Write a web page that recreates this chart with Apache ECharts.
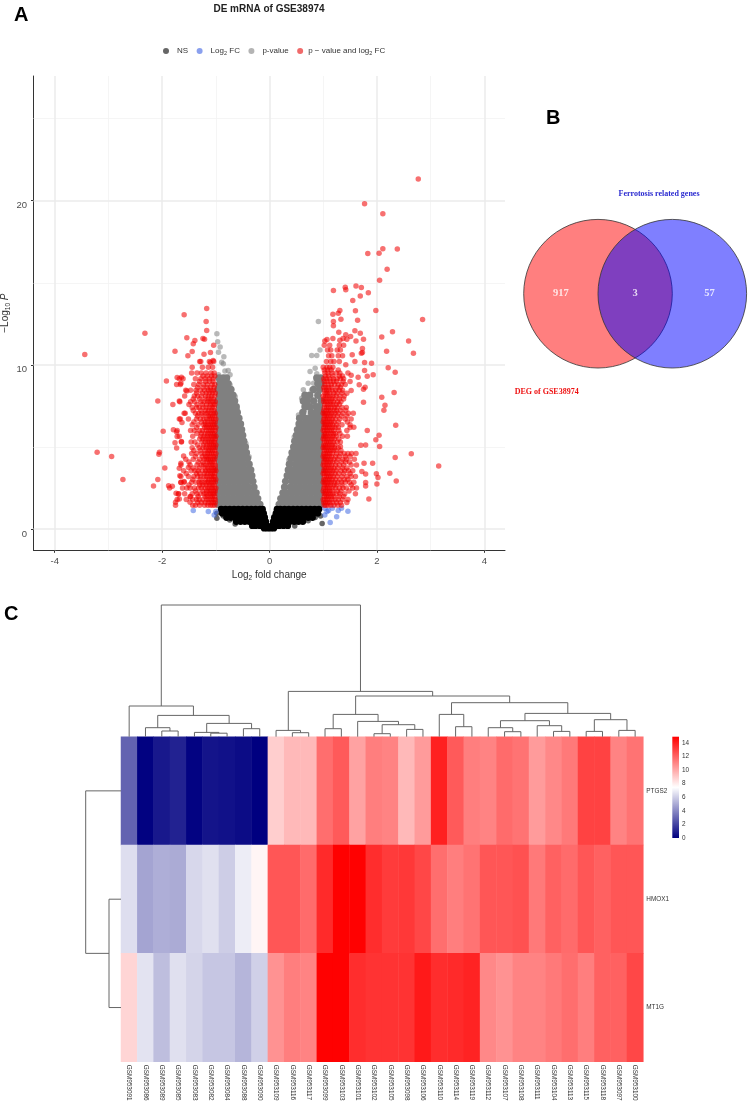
<!DOCTYPE html>
<html><head><meta charset="utf-8">
<style>html,body{margin:0;padding:0;background:#fff}#c{width:749px;height:1102px}</style>
<script src="https://cdn.jsdelivr.net/npm/echarts@6/dist/echarts.min.js"></script></head>
<body><div id="c"></div>
<script>
// ---------- Panel A: volcano values (rows are [-log10P, log2FC, log2FC, ...]) ----------
const xTicks=[-4,-2,0,2,4];
const yTicks=[0,10,20];
const xMajor=[-4,-2,0,2,4], xMinor=[-3,-1,1,3];
const yMajor=[0,10,20], yMinor=[5,15,25];

const nsMassRows=[
[1.2,-.9,-.82,-.74,-.66,-.58,-.5,-.42,-.34,-.26,-.18,-.13,.14,.2,.28,.36,.44,.52,.6,.68,.76,.84,.92],
[.95,-.88,-.8,-.72,-.64,-.56,-.48,-.4,-.32,-.24,-.16,-.11,.12,.18,.26,.34,.42,.5,.58,.66,.74,.82,.9],
[.7,-.8,-.72,-.64,-.56,-.48,-.4,-.32,-.24,-.16,-.09,.09,.16,.24,.32,.4,.48,.56,.64,.72,.8],
[.45,-.62,-.54,-.46,-.38,-.3,-.22,-.14,-.07,.07,.14,.22,.3,.38,.46,.54,.62],
[.2,-.32,-.26,-.18,-.12,-.05,.05,.12,.18,.26,.34],
[.05,-.1,-.04,.02,.08]];
const nsEdge=[[-.98,.95],[-.98,.65],[-.86,.79],[-.74,.55],[-.64,.3],[.47,.18],[.98,.33],[.95,.79],[.85,.7],[.72,.5]];
const log2fcOnly=[[-1.42,1.12],[-1.14,1.06],[-1.03,.85],[-1,1.06],[1.03,.85],[1.1,1.12],[1.17,1.26],[1.03,1.26],[1.28,1.12],[1.34,1.26],[1.46,1.08],[1.25,.75],[1.13,.39],[1.07,1.06]];
const pMassRows=[
[1.5,-.96,-.87,-.78,-.69,-.6,-.51,-.42,-.33,-.24,-.18,.18,.24,.33,.42,.51,.6,.69,.78,.87,.96],
[1.85,-.93,-.84,-.75,-.66,-.57,-.48,-.39,-.3,-.22,.21,.3,.39,.48,.57,.66,.75,.84,.93],
[2.2,-.96,-.87,-.78,-.69,-.6,-.51,-.42,-.33,-.25,.25,.33,.42,.51,.6,.69,.78,.87,.96],
[2.55,-.93,-.84,-.75,-.66,-.57,-.48,-.39,-.29,.28,.39,.48,.57,.66,.75,.84,.93],
[2.9,-.96,-.87,-.78,-.69,-.6,-.51,-.42,-.31,.3,.42,.51,.6,.69,.78,.87,.96],
[3.25,-.93,-.84,-.75,-.66,-.57,-.48,-.39,-.33,.33,.39,.48,.57,.66,.75,.84,.93],
[3.6,-.96,-.87,-.78,-.69,-.6,-.51,-.42,-.35,.35,.42,.51,.6,.69,.78,.87,.96],
[3.95,-.93,-.84,-.75,-.66,-.57,-.48,-.38,.37,.48,.57,.66,.75,.84,.93],
[4.3,-.96,-.87,-.78,-.69,-.6,-.51,-.41,.4,.51,.6,.69,.78,.87,.96],
[4.65,-.93,-.84,-.75,-.66,-.57,-.49,-.43,.42,.48,.57,.66,.75,.84,.93],
[5,-.96,-.87,-.78,-.69,-.6,-.51,-.45,.45,.51,.6,.69,.78,.87,.96],
[5.35,-.93,-.84,-.75,-.66,-.57,-.48,.47,.57,.66,.75,.84,.93],
[5.7,-.96,-.87,-.78,-.69,-.6,-.5,.5,.6,.69,.78,.87,.96],
[6.05,-.93,-.84,-.75,-.66,-.57,-.52,.52,.57,.66,.75,.84,.93],
[6.4,-.96,-.87,-.78,-.69,-.6,-.54,.55,.6,.69,.78,.87,.96],
[6.75,-.93,-.84,-.75,-.66,-.57,.56,.66,.75,.84,.93],
[7.1,-.96,-.87,-.78,-.69,-.6,.62,.78,.87,.96],
[7.45,-.93,-.84,-.75,-.66,-.62,.66,.75,.87,.93],
[7.8,-.96,-.87,-.78,-.69,-.65,.63,.7,.82,.96],
[8.15,-.93,-.84,-.75,-.68,.66,.75,.9],
[8.5,-.96,-.87,-.78,-.72,.82,.93],
[8.85,-.93,-.84,-.77,.9,.96],
[9.2,-.94,-.86,-.8,.88,.95]];
const pEdge=[[-.98,11.9],[-.965,11.4],[-.92,11.08],[-.95,10.77],[-.85,10.5],[-.89,10.16],[-.86,10.06],[-.83,9.63],[-.77,9.65],[-.95,9.4],[-.735,9.4],[-.86,9.19],[-.8,9.09],[-.735,8.78],[-.705,8.48],[-.64,8.07],[-.6,7.3],[-.5,5.8],[-.44,5.2],[-.38,4.4],
[.91,12.64],[.785,10.57],[.88,10.57],[.94,10.9],[.85,9.8],[.755,9.6],[.88,9.45],[.82,8.88],[.72,8.88],[.63,8.48],[.6,7.97],[.69,8.07],[.785,8.48],[.85,7.46],[.72,7.56],[.54,6.95],[.66,7.26],[.755,6.95],[.46,5.6],[.36,4.2]];
const bothLeftRows=[
[1.45,-1.02,-1.06,-1.1,-1.15,-1.21,-1.3,-1.38,-1.43,-1.75],
[1.62,-1.01,-1.05,-1.09,-1.14,-1.2,-1.27,-1.34],
[1.8,-1.01,-1.04,-1.08,-1.13,-1.17,-1.24,-1.31,-1.36,-1.43,-1.55,-1.72],
[1.98,-1.02,-1.06,-1.1,-1.16,-1.2,-1.33,-1.47],
[2.15,-1.02,-1.05,-1.09,-1.12,-1.18,-1.22,-1.29,-1.35,-1.44,-1.58,-1.69],
[2.32,-1.01,-1.04,-1.09,-1.13,-1.17,-1.24,-1.38],
[2.5,-1,-1.03,-1.07,-1.11,-1.15,-1.2,-1.27,-1.32,-1.4,-1.48,-1.54,-1.62,-1.86],
[2.68,-1.03,-1.07,-1.12,-1.18,-1.24,-1.3,-1.5],
[2.85,-1.01,-1.05,-1.09,-1.13,-1.16,-1.21,-1.26,-1.31,-1.37,-1.45,-1.59,-1.65],
[3.02,-1,-1.04,-1.08,-1.13,-1.19,-1.29,-1.43],
[3.2,-1.02,-1.04,-1.08,-1.12,-1.17,-1.22,-1.28,-1.34,-1.41,-1.51,-1.65],
[3.38,-1.02,-1.06,-1.1,-1.16,-1.21,-1.3,-1.36,-1.55],
[3.55,-1,-1.03,-1.07,-1.11,-1.14,-1.19,-1.25,-1.33,-1.39,-1.46,-1.6],
[3.72,-1.01,-1.05,-1.09,-1.15,-1.2,-1.31,-1.42],
[3.9,-1.01,-1.05,-1.09,-1.13,-1.18,-1.23,-1.27,-1.35,-1.48,-1.65],
[4.08,-1.03,-1.07,-1.11,-1.16,-1.24,-1.33,-1.5],
[4.25,-1.02,-1.06,-1.1,-1.14,-1.17,-1.22,-1.3,-1.42,-1.56],
[4.42,-1.01,-1.05,-1.1,-1.15,-1.19,-1.25,-1.38],
[4.6,-1,-1.04,-1.08,-1.12,-1.16,-1.21,-1.27,-1.36,-1.45],
[4.78,-1.02,-1.06,-1.11,-1.14,-1.2,-1.29,-1.41],
[4.95,-1.01,-1.05,-1.09,-1.13,-1.18,-1.24,-1.31,-1.44],
[5.12,-1,-1.04,-1.08,-1.12,-1.17,-1.23,-1.34],
[5.3,-1.02,-1.04,-1.08,-1.12,-1.15,-1.2,-1.26,-1.39,-1.46,-1.64],
[5.48,-1.01,-1.05,-1.09,-1.14,-1.19,-1.24,-1.3],
[5.65,-1,-1.03,-1.07,-1.11,-1.16,-1.22,-1.28,-1.43,-1.68],
[5.82,-1.02,-1.06,-1.1,-1.15,-1.2,-1.27,-1.35],
[6,-1.01,-1.05,-1.09,-1.13,-1.18,-1.25,-1.3,-1.4,-1.47,-1.72],
[6.18,-1,-1.04,-1.08,-1.12,-1.17,-1.21,-1.36],
[6.35,-1.02,-1.06,-1.1,-1.14,-1.19,-1.23,-1.33,-1.44],
[6.52,-1.01,-1.05,-1.09,-1.15,-1.2,-1.27,-1.41],
[6.7,-1,-1.04,-1.08,-1.12,-1.17,-1.22,-1.29,-1.36,-1.51,-1.66],
[6.88,-1.02,-1.06,-1.11,-1.14,-1.24,-1.34],
[7.05,-1.01,-1.05,-1.1,-1.16,-1.2,-1.26,-1.32,-1.38,-1.57],
[7.22,-1.03,-1.08,-1.13,-1.19,-1.28,-1.42],
[7.4,-1.03,-1.07,-1.12,-1.18,-1.24,-1.31,-1.36,-1.44],
[7.58,-1.02,-1.05,-1.1,-1.17,-1.25,-1.35,-1.5],
[7.75,-1.01,-1.06,-1.11,-1.15,-1.22,-1.28,-1.39,-1.47,-1.67],
[7.92,-1.04,-1.09,-1.14,-1.2,-1.3,-1.42],
[8.1,-1.02,-1.08,-1.13,-1.19,-1.27,-1.34,-1.4,-1.58],
[8.28,-1.01,-1.06,-1.12,-1.18,-1.25,-1.36],
[8.45,-1.04,-1.09,-1.14,-1.21,-1.29,-1.37,-1.47,-1.56],
[8.62,-1.03,-1.1,-1.16,-1.24,-1.34],
[8.8,-1.02,-1.07,-1.16,-1.23,-1.32,-1.41,-1.66,-1.73],
[8.98,-1.05,-1.12,-1.19,-1.3],
[9.15,-1.05,-1.12,-1.2,-1.28,-1.38,-1.61,-1.68],
[9.32,-1.02,-1.08,-1.16,-1.24],
[9.5,-1.03,-1.09,-1.18,-1.27,-1.35,-1.45],
[9.85,-1.06,-1.14,-1.25,-1.44],
[10.2,-1.04,-1.12,-1.3]];
const bothLeftSparse=[[-3.44,10.63],[-3.21,4.67],[-2.94,4.41],[-2.73,3.01],[-2.32,11.93],[-2.16,2.62],[-2.08,3.01],[-2.06,4.55],[-2.05,4.67],[-1.98,5.96],[-1.95,3.72],[-2.08,7.8],[-1.92,9.02],[-1.88,2.64],[-1.81,2.6],[-1.8,7.58],[-1.79,6.04],[-1.76,10.83],[-1.59,13.05],[-1.17,13.43],[-1.18,12.64],[-1.17,12.09],[-1.54,11.65],[-1.39,11.48],[-1.42,11.28],[-1.24,11.6],[-1.21,11.56],[-1.44,10.81],[-1.1,10.14],[-1.05,10.26],[-1.28,10.2],[-1.52,10.55],[-1.22,10.65],[-1.1,10.75],[-1.04,11.2],[-1.54,8.4],[-1.72,9.23],[-1.64,9.25],[-1.65,8.88],[-1.68,7.8],[-1.59,7.05],[-1.68,6.7],[-1.63,6.48],[-1.73,5.91],[-1.72,5.63],[-1.64,5.33],[-1.76,5.26],[-1.73,4.94],[-1.6,4.45],[-1.65,4],[-1.68,3.7],[-1.51,3.74],[-1.67,3.25],[-1.65,2.83],[-1.59,2.89],[-1.74,2.17],[-1.7,2.13],[-1.75,1.63],[-1.68,1.83],[-1.48,1.97],[-1.48,1.63]];
const bothRightRows=[
[1.45,1.02,1.05,1.09,1.14,1.2,1.27,1.34],
[1.62,1.01,1.04,1.08,1.12,1.18,1.25,1.32,1.44],
[1.8,1,1.03,1.07,1.11,1.16,1.22,1.28,1.36,1.46],
[1.98,1.02,1.06,1.1,1.15,1.2,1.3,1.38],
[2.15,1.02,1.05,1.09,1.13,1.18,1.24,1.31,1.4,1.6],
[2.32,1,1.04,1.08,1.12,1.17,1.26,1.33,1.48],
[2.5,1.01,1.04,1.08,1.12,1.17,1.23,1.3,1.37,1.43,1.55,1.62],
[2.68,1.02,1.05,1.09,1.14,1.2,1.25,1.35,1.52],
[2.85,1,1.03,1.07,1.11,1.15,1.21,1.27,1.34,1.41,1.49,1.57],
[3.02,1.01,1.04,1.08,1.12,1.17,1.23,1.31,1.39,1.46],
[3.2,1.02,1.06,1.1,1.14,1.19,1.26,1.35,1.44,1.52,1.6],
[3.38,1,1.03,1.07,1.11,1.16,1.22,1.29,1.38,1.5],
[3.55,1.01,1.04,1.08,1.13,1.18,1.24,1.33,1.4,1.47,1.55],
[3.72,1.02,1.06,1.1,1.15,1.2,1.27,1.36,1.44],
[3.9,1,1.03,1.07,1.11,1.16,1.23,1.3,1.38,1.52,1.62],
[4.08,1.01,1.05,1.09,1.13,1.18,1.25,1.34,1.42,1.49],
[4.25,1.02,1.05,1.09,1.14,1.2,1.27,1.36,1.43,1.58],
[4.42,1,1.03,1.07,1.11,1.16,1.23,1.3,1.41,1.5],
[4.6,1.01,1.04,1.08,1.12,1.17,1.25,1.32,1.39,1.46,1.53,1.61],
[4.78,1.02,1.06,1.1,1.14,1.19,1.24,1.33],
[4.95,1,1.03,1.07,1.11,1.16,1.21,1.28],
[5.12,1.01,1.04,1.08,1.12,1.17,1.22],
[5.3,1.02,1.06,1.1,1.14,1.19,1.26,1.32],
[5.48,1,1.03,1.07,1.11,1.16,1.21,1.29],
[5.65,1.01,1.04,1.08,1.13,1.18,1.24,1.36,1.45],
[5.82,1.02,1.05,1.09,1.14,1.19,1.23,1.31],
[6,1,1.03,1.07,1.11,1.15,1.2,1.29,1.44],
[6.18,1.01,1.04,1.08,1.12,1.17,1.22,1.28,1.5],
[6.35,1.02,1.05,1.09,1.13,1.18,1.25,1.35,1.5],
[6.52,1,1.03,1.07,1.11,1.15,1.2,1.28,1.45],
[6.7,1.01,1.04,1.08,1.12,1.17,1.23,1.31,1.41,1.52],
[6.88,1.02,1.05,1.09,1.14,1.19,1.26,1.34,1.44],
[7.05,1,1.03,1.07,1.11,1.16,1.22,1.28,1.37,1.47,1.56],
[7.22,1.01,1.06,1.1,1.14,1.2,1.25,1.32,1.42],
[7.4,1.02,1.06,1.1,1.15,1.21,1.26,1.35,1.43],
[7.58,1.03,1.08,1.13,1.18,1.24,1.3],
[7.75,1.01,1.05,1.09,1.14,1.19,1.27,1.33],
[7.92,1.01,1.06,1.11,1.16,1.22,1.3,1.38],
[8.1,1,1.04,1.08,1.13,1.18,1.24,1.31,1.39],
[8.28,1.03,1.07,1.12,1.2,1.26,1.35],
[8.45,1.02,1.06,1.11,1.17,1.23,1.3,1.36],
[8.62,1.01,1.05,1.1,1.16,1.26,1.32],
[8.8,1.03,1.09,1.15,1.21,1.28,1.34,1.41],
[8.98,1.02,1.07,1.13,1.19,1.25,1.37,1.5],
[9.15,1.01,1.06,1.12,1.19,1.26,1.32,1.38],
[9.32,1.04,1.1,1.18,1.3,1.36],
[9.5,1.03,1.09,1.16,1.24,1.31,1.46],
[9.68,1.02,1.08,1.15,1.28],
[9.85,1,1.07,1.12,1.18],
[10.2,1.06,1.14,1.2,1.3],
[10.55,1.1,1.16,1.28,1.36],
[10.9,1.08,1.14,1.26,1.32],
[11.2,1.02,1.12,1.3,1.38]];
const bothRightSparse=[[2.77,21.32],[1.77,19.82],[2.11,19.2],[2.11,17.08],[2.38,17.06],[1.83,16.78],[2.04,16.8],[2.19,15.83],[2.05,15.15],[1.41,14.73],[1.42,14.57],[1.19,14.53],[1.61,14.81],[1.71,14.71],[1.84,14.39],[1.69,14.2],[1.55,13.92],[1.6,13.29],[1.98,13.31],[1.31,13.31],[1.28,13.15],[1.18,13.09],[1.33,12.78],[1.19,12.64],[1.64,12.72],[2.85,12.76],[1.19,12.38],[1.59,12.07],[1.29,11.99],[2.29,12.01],[1.69,11.93],[1.42,11.83],[1.51,11.73],[2.09,11.69],[1.75,11.56],[1.44,11.56],[2.59,11.46],[1.18,11.6],[1.31,11.5],[1.07,11.55],[1.03,11.45],[1.61,11.45],[1.37,11.6],[1.73,11],[2.18,10.83],[2.68,10.71],[1.73,10.75],[1.71,10.7],[1.54,10.61],[1.59,10.2],[1.77,10.14],[1.9,10.1],[1.42,10],[2.21,9.82],[2.34,9.55],[1.77,9.65],[1.93,9.39],[1.82,9.31],[1.52,9.37],[1.65,9.25],[1.67,8.78],[1.78,8.64],[1.75,8.52],[2.32,8.31],[1.52,8.43],[1.44,8.27],[2.09,8.03],[1.75,7.72],[2.15,7.54],[2.13,7.24],[2.35,6.32],[1.57,6.2],[1.82,6],[2.04,5.71],[1.98,5.43],[2.05,5.02],[1.7,5.1],[1.79,5.12],[1.32,5.02],[2.64,4.59],[2.34,4.35],[3.15,3.84],[1.92,4],[1.76,4],[1.72,3.5],[1.79,3.35],[1.99,3.37],[2.02,3.13],[2.24,3.39],[2.36,2.93],[2,2.74],[1.79,2.83],[1.79,2.62],[1.85,1.83]];

// ---------- Panel B ----------
const vennSets=[[-1,0],[1,0]];
const vennCounts=[[-2,0,'917'],[0,0,'3'],[2,0,'57']];

// ---------- Panel C ----------
const samples=['GSM953091','GSM953086','GSM953089','GSM953085','GSM953083','GSM953082','GSM953084','GSM953088','GSM953090','GSM953109','GSM953116','GSM953117','GSM953099','GSM953103','GSM953101','GSM953102','GSM953105','GSM953098','GSM953106','GSM953110','GSM953114','GSM953119','GSM953112','GSM953107','GSM953108','GSM953111','GSM953104','GSM953113','GSM953115','GSM953118','GSM953097','GSM953100'];
const genes=['PTGS2','HMOX1','MT1G'];
const ptgs2=[2.9,.05,.7,1,.1,.6,.5,.35,0,8.9,9.5,9.5,11.7,12.3,10.2,11.25,11.1,9.5,10.4,14,12.3,11.25,11.1,11.8,11.55,10.4,10.95,11.4,13,13,11.1,11.55];
const hmox1=[6.5,4.8,5.1,5,6.3,6.55,6,6.95,7.75,12.4,12.4,11.8,13.7,14.9,14.9,13.6,13.2,13.3,12.85,11.7,11.25,11.55,12.4,12.4,12.55,11.4,12.1,11.8,12.4,12.1,12.4,12.4];
const mt1g=[8.7,6.65,5.55,6.55,6.2,5.8,5.8,5.3,6.1,10.65,11.25,11.1,14.9,14.9,13.6,13.45,13.45,13.45,14.2,13.6,13.7,13.9,10.95,10.65,11.1,11.1,11.4,11.7,11.25,12.1,12.1,12.85];
const exprMax=14.93;
const barTicks=[0,2,4,6,8,10,12,14];
// Dendrogram merges: [left, right, height]; a number is a leaf (1-based), a string names an earlier merge.
const sampleTree={
n1:[3,4,5.7],n2:[2,'n1',9],n3:[6,7,3.5],n4:[5,'n3',4.3],n5:[8,9,8],n6:['n4','n5',13.3],n7:['n2','n6',21.3],n8:[1,'n7',30.7],
n9:[11,12,4],n10:[10,'n9',6.3],n11:[13,14,8],n12:[16,17,3],n13:[18,19,7.3],n14:['n12','n13',12],n15:[15,'n14',15.3],n16:['n11','n15',22.3],
n17:[21,22,10],n18:[20,'n17',22.3],n19:[24,25,5],n20:[23,'n19',9],n21:[27,28,5.3],n22:[26,'n21',11],n23:['n20','n22',16],n24:[29,30,5.3],n25:[31,32,6.3],n26:['n24','n25',17],n27:['n23','n26',23.3],n28:['n18','n27',34],
n29:['n16','n28',40.7],n30:['n10','n29',45.3],n31:['n8','n30',131.7]};
const geneTree={g1:[2,3,12],g2:[1,'g1',35.3]};

// ---------- helpers ----------
const expand=rows=>rows.flatMap(([y,...xs])=>xs.map(x=>[x,y]));
function treeLines(tree,swap){
  const pos={},hts={},out=[];
  const get=r=>typeof r==='number'?[r-.5,0]:[pos[r],hts[r]];
  for(const k in tree){
    const [a,b,h]=tree[k];const [xa,ha]=get(a),[xb,hb]=get(b);
    pos[k]=(xa+xb)/2;hts[k]=h;
    const pts=[[xa,ha],[xa,h],[xb,h],[xb,hb]];
    out.push({coords:swap?pts.map(p=>[p[1],p[0]]):pts});
  }
  return out;
}
const heatData=[];
[ptgs2,hmox1,mt1g].forEach((row,r)=>row.forEach((v,c)=>heatData.push([c,r,v])));

const FF='"Liberation Sans",Arial,sans-serif';
const hidden={show:false};
const gl=(k,v,w,c)=>({[k]:v,lineStyle:{width:w,color:c,type:'solid'}});
const subRich={s:{fontSize:6.5,fontFamily:FF,color:'#333',verticalAlign:'bottom',padding:[5,0,0,0]},i:{fontStyle:'italic',fontSize:10,fontFamily:FF,color:'#333'}};
const G={outerBoundsMode:'none',containLabel:false};

const option={
 animation:false,backgroundColor:'#fff',textStyle:{fontFamily:FF},
 grid:[
  {...G,left:33.5,top:76,width:471.5,height:474.3},
  {...G,left:523.7,top:182.25,width:222.9,height:222.9},
  {...G,left:121,top:600,width:522.3,height:136.7},
  {...G,left:81,top:736.7,width:40,height:325},
  {...G,left:121,top:736.7,width:522.3,height:325},
  {...G,left:672.3,top:736.7,width:6.7,height:101.3}],
 xAxis:[
  {gridIndex:0,type:'value',min:-4.395,max:4.385,
   axisLine:{onZero:false,lineStyle:{color:'#333',width:1}},
   axisTick:{length:2.5,customValues:xTicks,lineStyle:{color:'#333'}},
   axisLabel:{customValues:xTicks,fontSize:9.5,color:'#4d4d4d',margin:6,formatter:v=>String(v)},
   splitLine:hidden,
   name:'Log{s|2} fold change',nameLocation:'middle',nameGap:19,nameMoveOverlap:false,
   nameTextStyle:{fontSize:10,color:'#333',rich:subRich}},
  {gridIndex:1,type:'value',min:-3,max:3,show:false},
  {gridIndex:2,type:'value',min:0,max:32,show:false},
  {gridIndex:3,type:'value',min:0,max:40,inverse:true,show:false},
  {gridIndex:4,type:'category',data:samples,
   axisLine:hidden,axisTick:hidden,splitLine:hidden,
   axisLabel:{interval:0,rotate:-90,fontSize:6.4,color:'#333',margin:3}},
  {gridIndex:5,type:'category',data:['c'],show:false}],
 yAxis:[
  {gridIndex:0,type:'value',min:-1.3,max:27.6,
   axisLine:{show:true,onZero:false,lineStyle:{color:'#333',width:1}},
   axisTick:{show:true,length:2.5,customValues:yTicks,lineStyle:{color:'#333'}},
   axisLabel:{customValues:yTicks,fontSize:9.5,color:'#4d4d4d',margin:6.5,verticalAlign:'top',formatter:v=>String(v)},
   splitLine:hidden,
   name:'\u2212Log{s|10} {i|P}',nameLocation:'middle',nameGap:22,nameMoveOverlap:false,
   nameTextStyle:{fontSize:10,color:'#333',rich:subRich}},
  {gridIndex:1,type:'value',min:-3,max:3,show:false},
  {gridIndex:2,type:'value',min:0,max:136.7,show:false},
  {gridIndex:3,type:'value',min:0,max:3,inverse:true,show:false},
  {gridIndex:4,type:'category',data:genes,inverse:true,position:'right',
   axisLine:hidden,axisTick:hidden,splitLine:hidden,
   axisLabel:{interval:0,fontSize:6.4,color:'#333',margin:3}},
  {gridIndex:5,type:'value',min:0,max:exprMax,position:'right',
   axisLine:hidden,axisTick:hidden,splitLine:hidden,
   axisLabel:{customValues:barTicks,fontSize:6.4,color:'#333',margin:3,formatter:v=>String(v)}}],
 legend:{left:158,top:42,itemWidth:6,itemHeight:6,itemGap:8.5,icon:'circle',selectedMode:false,
  data:[
   {name:'NS',itemStyle:{color:'#666',opacity:1}},
   {name:'Log2 FC',itemStyle:{color:'#8aa0ee',opacity:1}},
   {name:'p-value',itemStyle:{color:'#b4b4b4',opacity:1}},
   {name:'p \u2212 value and log2 FC',itemStyle:{color:'#f06a6a',opacity:1}}],
  formatter:n=>n==='NS'?'{p|NS}':n==='Log2 FC'?'{p|Log}{s|2}{t| FC}':n==='p-value'?'{p|p-value}':'{t|p \u2212 value and log}{s|2}{t| FC}',
  textStyle:{fontSize:8,color:'#333',rich:{
   p:{fontSize:8,color:'#333',padding:[0,0,0,3],fontFamily:FF},
   t:{fontSize:8,color:'#333',fontFamily:FF},
   s:{fontSize:5.5,color:'#333',verticalAlign:'bottom',padding:[4,0,0,0],fontFamily:FF}}}},
 visualMap:{show:false,seriesIndex:[11],min:0,max:exprMax,inRange:{color:['#000080','#ffffff','#ff0000']}},
 series:[
  {type:'scatter',xAxisIndex:0,yAxisIndex:0,data:[],z:1,silent:true,
   markLine:{silent:true,z:1,symbol:'none',label:hidden,animation:false,data:[
    ...xMinor.map(v=>gl('xAxis',v,.8,'#f2f2f2')),...yMinor.map(v=>gl('yAxis',v,.8,'#f2f2f2')),
    ...xMajor.map(v=>gl('xAxis',v,1.5,'#ebebeb')),...yMajor.map(v=>gl('yAxis',v,1.5,'#ebebeb'))]}},
  {name:'p-value',type:'scatter',xAxisIndex:0,yAxisIndex:0,z:2,data:pEdge,symbolSize:5.5,itemStyle:{color:'#808080',opacity:.55}},
  {name:'p-value',type:'scatter',xAxisIndex:0,yAxisIndex:0,z:2,data:expand(pMassRows),symbolSize:7.4,itemStyle:{color:'#808080',opacity:1}},
  {name:'NS',type:'scatter',xAxisIndex:0,yAxisIndex:0,z:3,data:nsEdge,symbolSize:5.5,itemStyle:{color:'#000',opacity:.6}},
  {name:'NS',type:'scatter',xAxisIndex:0,yAxisIndex:0,z:3,data:expand(nsMassRows),symbolSize:6.8,itemStyle:{color:'#000',opacity:1}},
  {name:'Log2 FC',type:'scatter',xAxisIndex:0,yAxisIndex:0,z:4,data:log2fcOnly,symbolSize:5.5,itemStyle:{color:'#4169e1',opacity:.55}},
  {name:'p \u2212 value and log2 FC',type:'scatter',xAxisIndex:0,yAxisIndex:0,z:5,
   data:[...expand(bothLeftRows),...bothLeftSparse,...expand(bothRightRows),...bothRightSparse],
   symbolSize:5.5,itemStyle:{color:'#f00000',opacity:.56}},
  // venn
  {type:'scatter',xAxisIndex:1,yAxisIndex:1,data:[vennSets[0]],symbolSize:148.6,clip:false,silent:true,z:2,
   itemStyle:{color:'rgba(255,0,0,.5)',opacity:1,borderColor:'#333',borderWidth:.8}},
  {type:'scatter',xAxisIndex:1,yAxisIndex:1,data:[vennSets[1]],symbolSize:148.6,clip:false,silent:true,z:3,
   itemStyle:{color:'rgba(0,0,255,.5)',opacity:1,borderColor:'#333',borderWidth:.8}},
  {type:'scatter',xAxisIndex:1,yAxisIndex:1,data:vennCounts,symbolSize:0,silent:true,z:5,
   label:{show:true,position:'inside',formatter:p=>p.value[2],color:'#fff',fontFamily:'"Liberation Serif",serif',fontWeight:'bold',fontSize:10.5}},
  // dendrograms
  {type:'lines',coordinateSystem:'cartesian2d',xAxisIndex:2,yAxisIndex:2,polyline:true,silent:true,z:3,
   lineStyle:{color:'#666',width:1,opacity:1},data:treeLines(sampleTree,false)},
  // heatmap (index 11 for the visualMap)
  {type:'heatmap',xAxisIndex:4,yAxisIndex:4,data:heatData,silent:true,z:2,itemStyle:{borderWidth:0}},
  {type:'lines',coordinateSystem:'cartesian2d',xAxisIndex:3,yAxisIndex:3,polyline:true,silent:true,z:3,
   lineStyle:{color:'#666',width:1,opacity:1},data:treeLines(geneTree,true)},
  // colour bar
  {type:'bar',xAxisIndex:5,yAxisIndex:5,data:[exprMax],barWidth:'100%',silent:true,
   itemStyle:{color:new echarts.graphic.LinearGradient(0,0,0,1,[{offset:0,color:'#ff0000'},{offset:.5,color:'#ffffff'},{offset:1,color:'#000080'}])}}
 ],
 graphic:[
  ...[['A',14,15],['B',546,118],['C',4,614]].map(([t,x,y])=>({type:'text',x,y,z:10,style:{text:t,fontFamily:FF,fontWeight:'bold',fontSize:20,fill:'#000',textVerticalAlign:'middle'}})),
  {type:'text',x:269,y:9,z:10,style:{text:'DE mRNA of GSE38974',fontFamily:FF,fontWeight:'bold',fontSize:10,fill:'#222',textAlign:'center',textVerticalAlign:'middle'}},
  {type:'text',x:659,y:194,z:10,style:{text:'Ferrotosis related genes',fontFamily:'"Liberation Serif",serif',fontWeight:'bold',fontSize:8,fill:'#2a2ad0',textAlign:'center',textVerticalAlign:'middle'}},
  {type:'text',x:514.7,y:391.7,z:10,style:{text:'DEG of GSE38974',fontFamily:'"Liberation Serif",serif',fontWeight:'bold',fontSize:8,fill:'#ee1111',textAlign:'left',textVerticalAlign:'middle'}}
 ]
};
const chart=echarts.init(document.getElementById('c'),null,{renderer:'canvas',width:749,height:1102});
chart.setOption(option);
</script></body></html>
